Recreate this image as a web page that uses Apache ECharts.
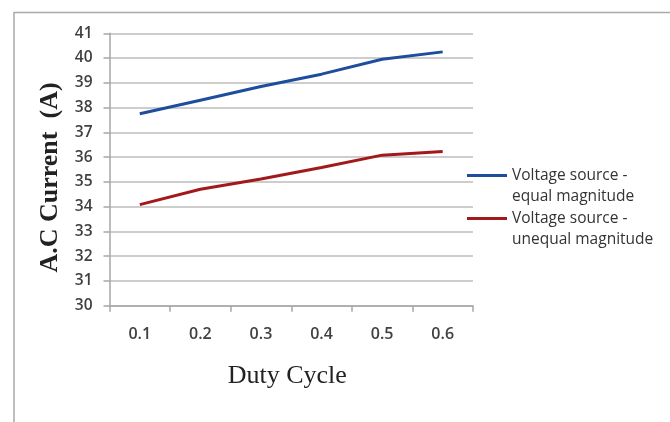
<!DOCTYPE html>
<html>
<head>
<meta charset="utf-8">
<script src="https://cdn.jsdelivr.net/npm/echarts@6/dist/echarts.min.js"></script>
<style>html,body{margin:0;padding:0;background:#fff}#c{width:670px;height:422px}</style>
</head>
<body>
<div id="c"></div>
<script>
var categories = ['0.1', '0.2', '0.3', '0.4', '0.5', '0.6'];
var equalMagnitude = [37.75, 38.3, 38.85, 39.35, 39.95, 40.25];
var unequalMagnitude = [34.08, 34.7, 35.12, 35.58, 36.08, 36.23];
var seriesNames = ['Voltage source -\nequal magnitude', 'Voltage source -\nunequal magnitude'];

var legendIcon = 'path://M0,0H40V3H0Z M0,24L0.01,24L0,24Z';

var chart = echarts.init(document.getElementById('c'), null, {renderer: 'canvas'});
chart.setOption({
  backgroundColor: '#fff',
  animation: false,
  graphic: [{
    type: 'rect',
    shape: {x: 14, y: 12.5, width: 700, height: 450},
    style: {fill: 'none', stroke: '#a9a9a9', lineWidth: 1.5},
    silent: true
  }],
  grid: {left: 109.5, right: 197, top: 33.3, bottom: 116.3, containLabel: false},
  legend: {
    orient: 'vertical',
    left: 462,
    top: 160,
    itemWidth: 40,
    itemHeight: 24,
    itemGap: 1,
    icon: legendIcon,
    textStyle: {fontFamily: 'Open Sans', fontSize: 15.5, color: '#333', lineHeight: 21},
    data: seriesNames
  },
  xAxis: {
    type: 'category',
    data: categories,
    boundaryGap: true,
    name: 'Duty Cycle',
    nameLocation: 'middle',
    nameGap: 57,
    nameTextStyle: {fontFamily: 'Liberation Serif', fontSize: 26, color: '#222', padding: [0, 8, 0, 0]},
    axisLine: {lineStyle: {color: '#a6a6a6', width: 1.5}},
    axisTick: {show: true, length: 6, lineStyle: {color: '#a6a6a6', width: 1.5}},
    axisLabel: {margin: 21, fontFamily: 'Open Sans', fontWeight: 600, fontSize: 16, color: '#404040'},
    splitLine: {show: false}
  },
  yAxis: {
    type: 'value',
    min: 30,
    max: 41,
    interval: 1,
    name: 'A.C Current  (A)',
    nameLocation: 'middle',
    nameGap: 46,
    nameRotate: 90,
    nameTextStyle: {fontFamily: 'Liberation Serif', fontWeight: 'bold', fontSize: 26, color: '#222', padding: [0, 16, 0, 0]},
    axisLine: {show: true, lineStyle: {color: '#a6a6a6', width: 1.5}},
    axisTick: {show: true, length: 6, lineStyle: {color: '#a6a6a6', width: 1.5}},
    axisLabel: {margin: 17, fontFamily: 'Open Sans', fontWeight: 600, fontSize: 15.5, color: '#404040'},
    splitLine: {show: true, lineStyle: {color: '#bdbdbd', width: 1.5}}
  },
  series: [{
    name: seriesNames[0],
    type: 'line',
    data: equalMagnitude,
    symbol: 'none',
    color: '#1f4d9e',
    lineStyle: {width: 3, color: '#1f4d9e'}
  }, {
    name: seriesNames[1],
    type: 'line',
    data: unequalMagnitude,
    symbol: 'none',
    color: '#a3191b',
    lineStyle: {width: 3, color: '#a3191b'}
  }]
});
</script>
</body>
</html>
